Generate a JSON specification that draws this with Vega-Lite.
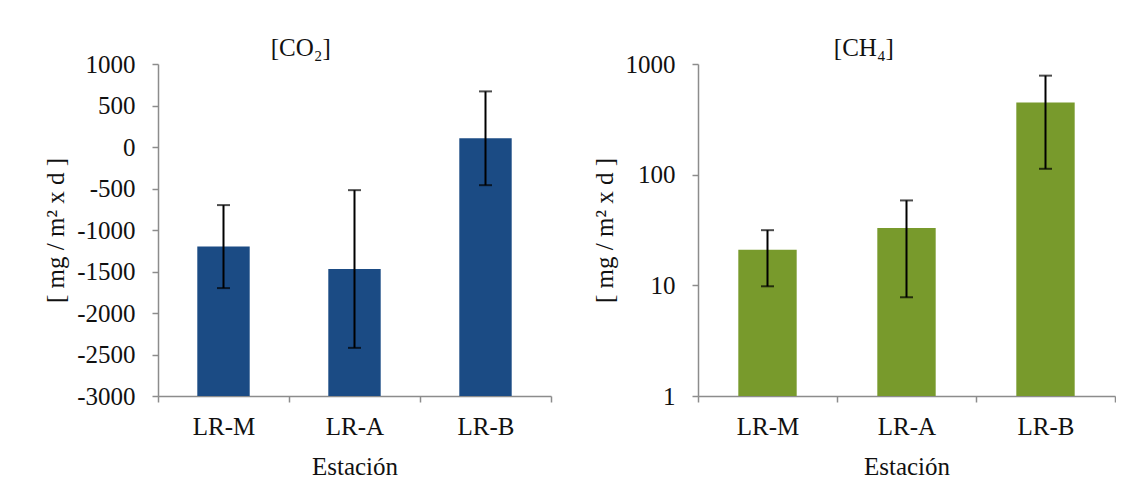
{
  "$schema": "https://vega.github.io/schema/vega-lite/v6.json",
  "padding": {"left": 43, "top": 36, "right": 0, "bottom": 0},
  "background": "white",
  "spacing": 40,
  "config": {
    "font": "Liberation Serif",
    "view": {"stroke": null},
    "axis": {
      "labelFont": "Liberation Serif", "titleFont": "Liberation Serif",
      "labelFontSize": 25, "titleFontSize": 25,
      "labelColor": "#111111", "titleColor": "#111111",
      "labelFontWeight": "normal", "titleFontWeight": "normal",
      "domainColor": "#8c8c8c", "tickColor": "#8c8c8c",
      "domainWidth": 1.5, "tickWidth": 1.5, "tickSize": 6, "grid": false
    },
    "title": {"font": "Liberation Serif", "fontSize": 25, "fontWeight": "normal", "color": "#111111", "frame": "bounds", "anchor": "middle"}
  },
  "datasets": {
    "co2": [
      {"estacion": "LR-M", "valor": -1200, "lo": -1700, "hi": -700},
      {"estacion": "LR-A", "valor": -1470, "lo": -2420, "hi": -520},
      {"estacion": "LR-B", "valor": 105, "lo": -460, "hi": 670}
    ],
    "ch4": [
      {"estacion": "LR-M", "valor": 21, "lo": 9.8, "hi": 31.5},
      {"estacion": "LR-A", "valor": 33, "lo": 7.8, "hi": 58.5},
      {"estacion": "LR-B", "valor": 450, "lo": 113, "hi": 785}
    ]
  },
  "hconcat": [
    {
      "width": 393, "height": 332,
      "title": {"text": "[CO₂]", "offset": -9, "dx": 3},
      "data": {"name": "co2"},
      "encoding": {
        "x": {"field": "estacion", "type": "nominal", "sort": ["LR-M", "LR-A", "LR-B"],
              "scale": {"paddingInner": 0, "paddingOuter": 0},
              "axis": {"title": "Estación", "labelAngle": 0, "tickBand": "extent", "labelPadding": 12, "titlePadding": 15}}
      },
      "layer": [
        {"mark": {"type": "bar", "color": "#1b4b84", "width": {"band": 0.4}},
         "encoding": {
           "y": {"field": "valor", "type": "quantitative", "title": "[ mg / m² x d ]",
                 "scale": {"domain": [-3000, 1000], "nice": false, "zero": false},
                 "axis": {"values": [-3000, -2500, -2000, -1500, -1000, -500, 0, 500, 1000], "labelExpr": "'' + datum.value", "labelPadding": 17, "titlePadding": 8}},
           "y2": {"datum": -3000}
         }},
        {"mark": {"type": "rule", "color": "black", "strokeWidth": 2},
         "encoding": {"y": {"field": "lo", "type": "quantitative", "title": "[ mg / m² x d ]"}, "y2": {"field": "hi"}}},
        {"mark": {"type": "tick", "color": "black", "thickness": 2, "size": 13},
         "encoding": {"y": {"field": "lo", "type": "quantitative", "title": "[ mg / m² x d ]"}}},
        {"mark": {"type": "tick", "color": "black", "thickness": 2, "size": 13},
         "encoding": {"y": {"field": "hi", "type": "quantitative", "title": "[ mg / m² x d ]"}}}
      ]
    },
    {
      "width": 417, "height": 332,
      "title": {"text": "[CH₄]", "offset": -9, "dx": 10},
      "data": {"name": "ch4"},
      "encoding": {
        "x": {"field": "estacion", "type": "nominal", "sort": ["LR-M", "LR-A", "LR-B"],
              "scale": {"paddingInner": 0, "paddingOuter": 0},
              "axis": {"title": "Estación", "labelAngle": 0, "tickBand": "extent", "labelPadding": 12, "titlePadding": 15}}
      },
      "layer": [
        {"mark": {"type": "bar", "color": "#789a2c", "width": {"band": 0.42}},
         "encoding": {
           "y": {"field": "valor", "type": "quantitative", "title": "[ mg / m² x d ]",
                 "scale": {"type": "log", "domain": [1, 1000], "nice": false},
                 "axis": {"values": [1, 10, 100, 1000], "labelExpr": "'' + datum.value", "labelPadding": 17, "titlePadding": 8}},
           "y2": {"datum": 1}
         }},
        {"mark": {"type": "rule", "color": "black", "strokeWidth": 2},
         "encoding": {"y": {"field": "lo", "type": "quantitative", "title": "[ mg / m² x d ]"}, "y2": {"field": "hi"}}},
        {"mark": {"type": "tick", "color": "black", "thickness": 2, "size": 13},
         "encoding": {"y": {"field": "lo", "type": "quantitative", "title": "[ mg / m² x d ]"}}},
        {"mark": {"type": "tick", "color": "black", "thickness": 2, "size": 13},
         "encoding": {"y": {"field": "hi", "type": "quantitative", "title": "[ mg / m² x d ]"}}}
      ]
    }
  ]
}
